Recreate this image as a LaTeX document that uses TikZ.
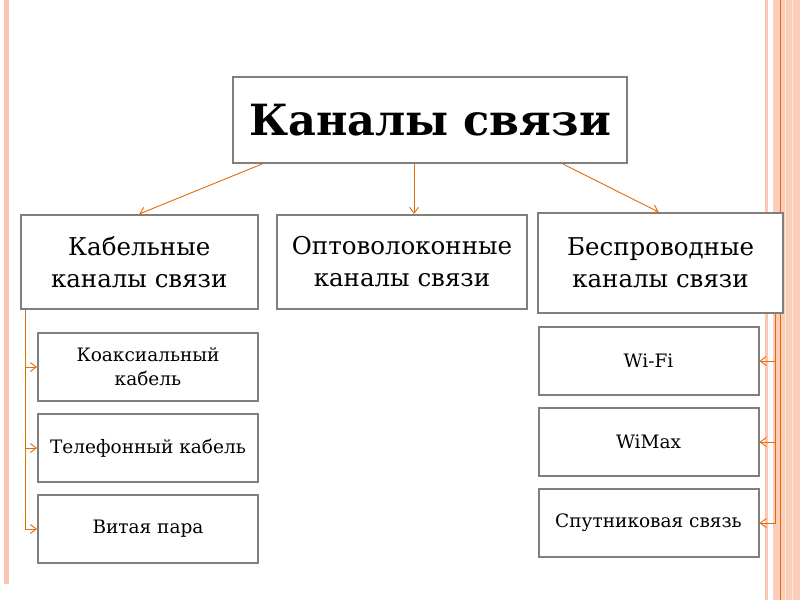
\documentclass[tikz,border=0pt]{standalone}
\usepackage{fontspec}
\setmainfont{DejaVu Serif}
\usetikzlibrary{arrows.meta}
\definecolor{stripe}{HTML}{FBC6B2}
\definecolor{band}{HTML}{FDCDBB}
\definecolor{orng}{HTML}{E36C0A}
\definecolor{boxgray}{HTML}{7F7F7F}
\tikzset{
  box/.style={draw=boxgray, line width=2pt, fill=white, inner sep=0pt, align=center, anchor=north west, text=black},
  bigtext/.style={font=\fontsize{43}{50}\selectfont\bfseries},
  midtext/.style={font=\fontsize{24.5}{32}\selectfont},
  smalltext/.style={font=\fontsize{18.5}{24}\selectfont},
  arr/.style={draw=orng, line width=0.9pt, -{Straight Barb[length=6pt,width=9pt]}}
}
\begin{document}
\begin{tikzpicture}[x=1pt,y=-1pt]
\useasboundingbox (0,0) rectangle (800,600);
\fill[white] (0,0) rectangle (800,600);
% decoration
\fill[stripe] (3.5,0) rectangle (8.5,584);
\fill[stripe] (765,0) rectangle (767.5,600);
\fill[band] (772.5,0) rectangle (800,600);
\fill[stripe!80!orng!30] (785,0) rectangle (786,600);
\fill[stripe!80!orng!30] (792,0) rectangle (793,600);
\draw[orng, line width=0.8pt] (780.5,0) -- (780.5,600);
% boxes
\node[box, bigtext, minimum width=394pt, minimum height=86pt] (title) at (232,76) {Каналы связи};
\node[box, midtext, minimum width=237.5pt, minimum height=94pt] (cable) at (19.5,214) {Кабельные\\каналы связи};
\node[box, midtext, minimum width=250pt, minimum height=94pt] (optic) at (276,214) {Оптоволоконные\\каналы связи};
\node[box, midtext, minimum width=245pt, minimum height=100pt] (wless) at (537,212) {Беспроводные\\каналы связи};
\node[box, smalltext, minimum width=220pt, minimum height=68pt] (coax) at (37,332) {Коаксиальный\\кабель};
\node[box, smalltext, minimum width=220pt, minimum height=68pt] (phone) at (37,413) {Телефонный кабель};
\node[box, smalltext, minimum width=220pt, minimum height=68pt] (pair) at (37,494) {Витая пара};
\node[box, smalltext, minimum width=220pt, minimum height=68pt] (wifi) at (537.5,326) {Wi-Fi};
\node[box, smalltext, minimum width=220pt, minimum height=68pt] (wimax) at (537.5,407) {WiMax};
\node[box, smalltext, minimum width=220pt, minimum height=68pt] (sat) at (537.5,488) {Спутниковая связь};
% connectors
\draw[arr] ([xshift=-168pt]title.south) -- (cable.north);
\draw[arr] ([xshift=-16pt]title.south) -- ([xshift=12pt]optic.north);
\draw[arr] ([xshift=133pt]title.south) -- ([xshift=-2pt]wless.north);
\coordinate (lb) at ([xshift=5.5pt]cable.south west);
\draw[arr] (lb) |- (coax.west);
\draw[arr] (lb) |- (phone.west);
\draw[arr] (lb) |- (pair.west);
\coordinate (rb) at ([xshift=-9pt]wless.south east);
\draw[arr] (rb) |- (wifi.east);
\draw[arr] (rb) |- (wimax.east);
\draw[arr] (rb) |- (sat.east);
\end{tikzpicture}
\end{document}
